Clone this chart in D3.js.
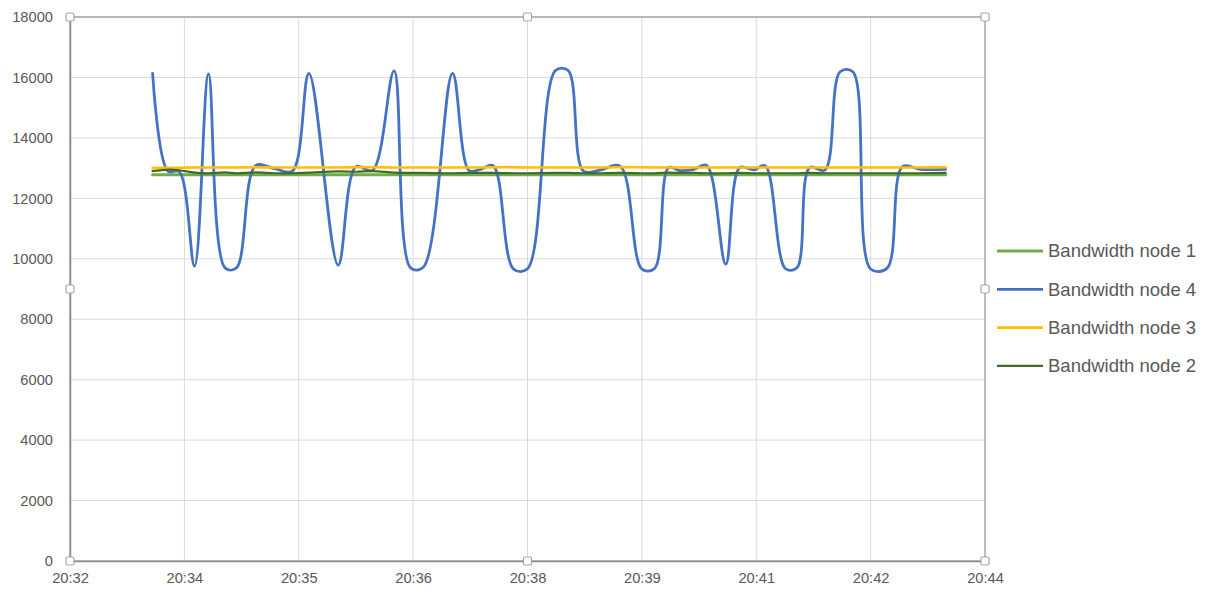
<!DOCTYPE html>
<html>
<head>
<meta charset="utf-8">
<script src="https://cdn.jsdelivr.net/npm/d3@7"></script>
<style>
  html, body { margin: 0; padding: 0; background: #fff; }
  svg { display: block; }
</style>
</head>
<body>
<svg id="chart" width="1209" height="595"></svg>
<script>
// ---- data ----
const times = ["20:33:05","20:33:17","20:33:26","20:33:38","20:33:49","20:34:02","20:34:11","20:34:26","20:34:41","20:34:55",
  "20:35:08","20:35:31","20:35:45","20:35:58","20:36:15","20:36:28","20:36:38","20:37:01","20:37:14","20:37:23",
  "20:37:33","20:37:49","20:38:00","20:38:22","20:38:32","20:38:44","20:38:57","20:39:13","20:39:30","20:39:40",
  "20:39:51","20:40:00","20:40:11","20:40:21","20:40:36","20:40:47","20:40:58","20:41:07","20:41:23","20:41:32",
  "20:41:42","20:41:54","20:42:06","20:42:16","20:42:30","20:42:43","20:42:55","20:43:09","20:43:29"];

const node4 = [16130,12900,12880,9760,16120,9700,9700,13080,12980,12900,
  16130,9790,13050,12920,16220,9700,9720,16130,12920,12960,
  13080,9660,9670,16230,16230,12900,12930,13060,9660,9680,
  13020,12920,12960,13090,9820,13020,12940,13080,9670,9700,
  13020,12930,16190,16190,9660,9690,13050,12960,12960];

const node1 = [12780,12780,12780,12780,12780,12780,12780,12780,12780,12780,
  12780,12780,12780,12780,12780,12780,12780,12780,12780,12780,
  12780,12780,12780,12780,12780,12780,12780,12780,12780,12780,
  12780,12780,12780,12780,12780,12780,12780,12780,12780,12780,
  12780,12780,12780,12780,12780,12780,12780,12780,12780];

const node3 = [13000,13010,13010,13020,13020,13020,13020,13030,13020,13020,
  13020,13020,13030,13030,13020,13020,13020,13020,13020,13020,
  13030,13030,13020,13020,13020,13020,13020,13030,13030,13020,
  13020,13020,13020,13020,13020,13020,13020,13020,13020,13020,
  13020,13020,13020,13020,13020,13020,13020,13020,13030];

const node2 = [12900,12950,12930,12850,12830,12860,12830,12860,12830,12830,
  12850,12890,12880,12900,12850,12840,12840,12830,12840,12840,
  12840,12830,12830,12840,12840,12830,12830,12840,12830,12830,
  12850,12840,12840,12830,12830,12840,12830,12830,12830,12830,
  12840,12830,12830,12830,12830,12830,12830,12830,12840];

const xTickTimes = ["20:32:00","20:33:30","20:35:00","20:36:30","20:38:00","20:39:30","20:41:00","20:42:30","20:44:00"];
const xTickLabels = ["20:32","20:34","20:35","20:36","20:38","20:39","20:41","20:42","20:44"];
const yTicks = [0,2000,4000,6000,8000,10000,12000,14000,16000,18000];

const seriesNames = ["Bandwidth node 1","Bandwidth node 4","Bandwidth node 3","Bandwidth node 2"];
const seriesValues = [node1, node4, node3, node2];
const seriesColors = ["#70AD47","#4472C4","#FFC000","#43682B"];
const seriesWidths = [3, 2.8, 2.6, 2.2];

// ---- layout ----
const parse = d3.timeParse("%H:%M:%S");
const pLeft = 70, pRight = 985, pTop = 17, pBottom = 561;
const fontFamily = "'Liberation Sans', Arial, sans-serif";
const textColor = "#595959";

const x = d3.scaleTime()
  .domain([parse("20:32:00"), parse("20:44:00")])
  .range([pLeft, pRight]);
const y = d3.scaleLinear().domain([0, 18000]).range([pBottom, pTop]);

const svg = d3.select("#chart");

// gridlines
svg.append("g")
  .selectAll("line")
  .data(yTicks.filter(d => d > 0))
  .join("line")
  .attr("x1", pLeft).attr("x2", pRight)
  .attr("y1", d => y(d)).attr("y2", d => y(d))
  .attr("stroke", "#D9D9D9").attr("stroke-width", 1);

svg.append("g")
  .selectAll("line")
  .data(xTickTimes.slice(1, -1).map(parse))
  .join("line")
  .attr("x1", d => x(d)).attr("x2", d => x(d))
  .attr("y1", pTop).attr("y2", pBottom)
  .attr("stroke", "#D9D9D9").attr("stroke-width", 1);

// plot area border (selected plot area)
svg.append("rect")
  .attr("x", pLeft).attr("y", pTop)
  .attr("width", pRight - pLeft).attr("height", pBottom - pTop)
  .attr("fill", "none").attr("stroke", "#A6A6A6").attr("stroke-width", 1.5);

// axes
const xAxis = d3.axisBottom(x)
  .tickValues(xTickTimes.map(parse))
  .tickFormat((d, i) => xTickLabels[i])
  .tickSize(0).tickPadding(12);
const gx = svg.append("g").attr("transform", `translate(0,${pBottom})`).call(xAxis);
gx.select(".domain").attr("stroke", "#8C8C8C").attr("stroke-width", 1.5);
gx.selectAll("text").attr("fill", textColor).attr("font-size", "14.7px").attr("font-family", fontFamily);

const yAxis = d3.axisLeft(y).tickValues(yTicks).tickFormat(d3.format("d")).tickSize(0).tickPadding(17);
const gy = svg.append("g").attr("transform", `translate(${pLeft},0)`).call(yAxis);
gy.select(".domain").attr("stroke", "#8C8C8C").attr("stroke-width", 1.5);
gy.selectAll("text").attr("fill", textColor).attr("font-size", "14.7px").attr("font-family", fontFamily);

// series lines
const pts = times.map(parse);
const line = d3.line()
  .x((d, i) => x(pts[i]))
  .y(d => y(d))
  .curve(d3.curveCatmullRom.alpha(0.5));

svg.append("g")
  .selectAll("path")
  .data(seriesValues)
  .join("path")
  .attr("d", d => line(d))
  .attr("fill", "none")
  .attr("stroke", (d, i) => seriesColors[i])
  .attr("stroke-width", (d, i) => seriesWidths[i])
  .attr("stroke-linejoin", "round")
  .attr("stroke-linecap", "round");

// selection handles
const hx = [pLeft, (pLeft + pRight) / 2, pRight];
const hy = [pTop, (pTop + pBottom) / 2, pBottom];
const handles = [];
hx.forEach((a, i) => hy.forEach((b, j) => { if (!(i === 1 && j === 1)) handles.push([a, b]); }));
svg.append("g")
  .selectAll("rect")
  .data(handles)
  .join("rect")
  .attr("x", d => d[0] - 4).attr("y", d => d[1] - 4)
  .attr("width", 8).attr("height", 8).attr("rx", 1.5)
  .attr("fill", "#fff").attr("stroke", "#A6A6A6").attr("stroke-width", 1.2);

// legend
const legend = svg.append("g");
const rows = legend.selectAll("g")
  .data(seriesNames)
  .join("g")
  .attr("transform", (d, i) => `translate(997,${251 + i * 38.3})`);
rows.append("line")
  .attr("x1", 0).attr("x2", 46).attr("y1", 0).attr("y2", 0)
  .attr("stroke", (d, i) => seriesColors[i])
  .attr("stroke-width", (d, i) => Math.min(seriesWidths[i], 2.8));
rows.append("text")
  .attr("x", 51).attr("y", 0).attr("dy", "0.35em")
  .attr("fill", textColor)
  .attr("font-size", "18.5px")
  .attr("font-family", fontFamily)
  .text(d => d);
</script>
</body>
</html>
